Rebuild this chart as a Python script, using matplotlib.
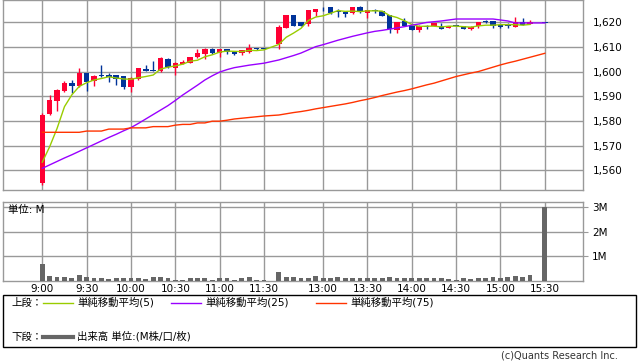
import numpy as np
import matplotlib.pyplot as plt
from matplotlib.patches import Rectangle
from matplotlib.lines import Line2D

nan = np.nan
plt.rcParams['font.family'] = ['DejaVu Sans', 'Noto Sans CJK JP']

# 5-minute bar labels: morning session, lunch gap, afternoon session
morning = [f"{h}:{m:02d}" for h in (9, 10, 11) for m in range(0, 60, 5)][:31]
afternoon = [f"{h}:{m:02d}" for h in (12, 13, 14, 15) for m in range(0, 60, 5)][6:43]
times = morning + [""] + afternoon

opens = [1555.0, 1582.8, 1588.2, 1592.3, 1595.3, 1594.3, 1599.4, 1596.1, 1598.5, 1598.5,
         1598.5, 1598.1, 1593.6, 1597.0, 1601.1, 1600.7, 1600.3, 1605.1, 1601.4, 1603.1,
         1603.5, 1605.8, 1607.0, 1609.2, 1607.7, 1609.2, 1608.1, 1607.4, 1607.8, 1609.3,
         1609.5, nan, 1611.1, 1617.8, 1623.0, 1619.9, 1619.2, 1624.2, 1625.4, 1626.1,
         1624.6, 1624.3, 1623.6, 1626.3, 1623.9, 1624.7, 1624.7, 1623.1, 1616.9, 1620.3,
         1618.5, 1616.9, 1618.6, 1618.6, 1618.6, 1617.8, 1618.6, 1618.4, 1617.3, 1618.6,
         1620.3, 1620.5, 1618.9, 1618.6, 1618.2, 1620.0, 1619.2, nan, 1619.8]
highs = [1583.1, 1590.4, 1593.1, 1596.2, 1596.6, 1601.5, 1599.4, 1598.5, 1602.7, 1599.4,
         1598.5, 1598.2, 1598.0, 1601.6, 1602.7, 1604.3, 1605.8, 1605.5, 1603.7, 1604.7,
         1606.1, 1609.2, 1609.4, 1609.7, 1609.3, 1609.3, 1608.2, 1608.9, 1611.2, 1609.6,
         1609.5, nan, 1618.9, 1623.1, 1623.0, 1620.0, 1625.1, 1625.5, 1626.0, 1626.1,
         1625.3, 1624.4, 1626.1, 1626.5, 1625.0, 1625.3, 1624.7, 1623.1, 1620.1, 1621.6,
         1618.6, 1618.7, 1618.7, 1619.7, 1619.6, 1618.6, 1618.7, 1618.5, 1618.3, 1620.1,
         1620.9, 1620.6, 1619.0, 1619.6, 1622.0, 1621.6, 1620.9, nan, 1619.8]
lows = [1554.0, 1582.6, 1584.2, 1591.9, 1591.5, 1593.6, 1592.3, 1594.3, 1597.8, 1595.9,
        1594.6, 1592.8, 1591.9, 1596.6, 1600.1, 1600.2, 1600.0, 1601.4, 1598.6, 1603.0,
        1603.3, 1605.4, 1605.0, 1607.2, 1605.8, 1607.1, 1606.8, 1606.7, 1607.6, 1608.7,
        1609.3, nan, 1609.3, 1617.5, 1618.3, 1618.4, 1618.5, 1622.6, 1624.6, 1623.4,
        1622.0, 1622.0, 1623.5, 1623.6, 1621.9, 1623.9, 1622.5, 1615.5, 1615.5, 1618.3,
        1616.8, 1616.2, 1617.3, 1618.5, 1617.2, 1617.7, 1618.4, 1617.2, 1616.9, 1617.6,
        1619.6, 1617.8, 1617.6, 1617.6, 1618.2, 1618.9, 1619.2, nan, 1619.7]
closes = [1582.4, 1588.5, 1592.5, 1595.4, 1594.3, 1599.4, 1595.9, 1598.2, 1598.1, 1598.0,
          1596.9, 1593.9, 1597.4, 1601.4, 1600.2, 1600.3, 1605.5, 1601.8, 1603.5, 1604.0,
          1606.1, 1607.4, 1609.2, 1607.4, 1609.2, 1608.1, 1607.0, 1608.8, 1609.7, 1609.1,
          1609.3, nan, 1618.2, 1623.0, 1618.6, 1618.6, 1625.0, 1625.4, 1625.2, 1623.6,
          1624.3, 1623.3, 1626.1, 1624.3, 1624.9, 1624.5, 1622.6, 1617.3, 1620.0, 1618.5,
          1616.9, 1618.6, 1618.2, 1619.6, 1617.3, 1618.5, 1618.5, 1617.3, 1618.2, 1620.0,
          1620.1, 1618.6, 1618.1, 1618.4, 1620.0, 1618.9, 1620.0, nan, 1619.7]

# volume in millions
volume = [0.69, 0.20, 0.15, 0.15, 0.11, 0.24, 0.15, 0.085, 0.11, 0.07,
          0.11, 0.085, 0.085, 0.085, 0.045, 0.15, 0.15, 0.085, 0.03, 0.03,
          0.085, 0.11, 0.085, 0.03, 0.11, 0.085, 0.03, 0.085, 0.155, 0.03,
          0.02, 0, 0.36, 0.155, 0.155, 0.085, 0.11, 0.17, 0.085, 0.085,
          0.155, 0.085, 0.085, 0.11, 0.085, 0.085, 0.085, 0.155, 0.11, 0.085,
          0.085, 0.085, 0.085, 0.085, 0.085, 0.045, 0.03, 0.085, 0.045, 0.11,
          0.085, 0.155, 0.11, 0.155, 0.2, 0.155, 0.24, 0, 3.0]

ma5 = [1563.3, 1569.6, 1577.0, 1585.8, 1590.6, 1594.0, 1595.5, 1596.6, 1597.2, 1597.9,
       1597.4, 1597.0, 1596.9, 1597.5, 1598.0, 1598.6, 1601.0, 1601.8, 1602.3, 1603.0,
       1604.2, 1604.6, 1606.0, 1606.8, 1607.9, 1608.3, 1608.2, 1608.1, 1608.6, 1608.5,
       1608.8, nan, 1611.0, 1613.9, 1615.6, 1617.5, 1620.7, 1622.1, 1622.6, 1623.6,
       1624.7, 1624.4, 1624.5, 1624.3, 1624.6, 1624.6, 1624.5, 1622.7, 1621.9, 1620.6,
       1619.1, 1618.3, 1618.4, 1618.4, 1618.1, 1618.4, 1618.4, 1618.2, 1618.0, 1618.5,
       1618.8, 1618.8, 1619.0, 1619.0, 1619.0, 1618.8, 1619.1, nan, nan]
ma25 = [1560.8, 1562.2, 1563.6, 1565.0, 1566.3, 1567.7, 1569.1, 1570.5, 1571.9, 1573.3,
        1574.6, 1576.0, 1577.3, 1579.0, 1580.8, 1582.6, 1584.4, 1586.2, 1588.3, 1590.5,
        1592.5, 1594.5, 1596.6, 1598.3, 1599.8, 1600.8, 1601.6, 1602.1, 1602.6, 1603.0,
        1603.4, nan, 1604.7, 1605.6, 1606.5, 1607.5, 1608.8, 1610.1, 1610.9, 1611.8,
        1612.7, 1613.5, 1614.3, 1615.0, 1615.7, 1616.3, 1616.7, 1617.2, 1617.7, 1618.2,
        1618.8, 1619.3, 1619.9, 1620.2, 1620.5, 1620.9, 1621.3, 1621.3, 1621.3, 1621.3,
        1621.3, 1621.3, 1620.9, 1620.5, 1619.7, 1619.7, 1619.7, nan, 1619.7]
ma75 = [1575.4, 1575.4, 1575.4, 1575.4, 1575.4, 1575.4, 1575.9, 1575.9, 1575.9, 1576.7,
        1576.7, 1576.7, 1577.2, 1577.2, 1577.2, 1577.7, 1577.7, 1577.7, 1578.3, 1578.6,
        1578.6, 1579.2, 1579.2, 1579.9, 1579.9, 1580.3, 1580.8, 1581.1, 1581.4, 1581.7,
        1582.0, nan, 1582.4, 1582.9, 1583.4, 1583.8, 1584.3, 1584.9, 1585.4, 1585.9,
        1586.4, 1586.9, 1587.5, 1588.2, 1588.8, 1589.5, 1590.3, 1591.0, 1591.7, 1592.3,
        1593.0, 1593.8, 1594.6, 1595.3, 1596.2, 1597.1, 1598.0, 1598.7, 1599.4, 1600.0,
        1600.9, 1601.8, 1602.7, 1603.5, 1604.2, 1605.0, 1605.8, nan, 1607.4]

tick_labels = ["9:00", "9:30", "10:00", "10:30", "11:00", "11:30",
               "13:00", "13:30", "14:00", "14:30", "15:00", "15:30"]
price_ticks = [1560, 1570, 1580, 1590, 1600, 1610, 1620]
vol_ticks = [1, 2, 3]
vol_tick_labels = ["1M", "2M", "3M"]

W, H = 638, 362
grid_c = '#999999'
up_c, down_c = '#ff0033', '#003399'


def fx(px):
    return px / W


def fy(py):
    return 1 - py / H


fig = plt.figure(figsize=(W / 100, H / 100), dpi=100)
ax = fig.add_axes([fx(3.3), fy(190.3), fx(582.7 - 3.3), 190.3 / H])
axv = fig.add_axes([fx(3.3), fy(280.5), fx(582.7 - 3.3), (280.5 - 201.7) / H])

slots = np.arange(len(times))
tick_pos = [times.index(t) for t in tick_labels]

# candlesticks
for i in slots:
    o, h, l, c = opens[i], highs[i], lows[i], closes[i]
    if np.isnan(o):
        continue
    col = up_c if c >= o else down_c
    ax.vlines(i, l, h, color=col, lw=1, zorder=3)
    ax.add_patch(Rectangle((i - 0.37, min(o, c)), 0.74, max(abs(c - o), 0.3),
                           facecolor=col, edgecolor='none', zorder=3))

for ma, col in [(ma5, '#99cc00'), (ma25, '#9900ff'), (ma75, '#ff3300')]:
    arr = np.array(ma)
    m = ~np.isnan(arr)
    ax.plot(slots[m], arr[m], color=col, lw=1, zorder=4)

ax.set_xlim(-5.28, 73.13)
ax.set_ylim(1551.9, 1629.0)
ax.set_xticks(tick_pos)
ax.set_xticklabels([])
ax.set_yticks(price_ticks)
ax.set_yticklabels([f"{v:,}" for v in price_ticks], fontsize=7.5)
ax.yaxis.tick_right()
ax.tick_params(length=0, pad=7.5)
ax.grid(color=grid_c, lw=1)
ax.set_axisbelow(True)

# volume
axv.bar(slots, volume, width=0.65, color='#666666', zorder=3)
axv.set_xlim(-5.28, 73.13)
axv.set_ylim(0, 3.23)
axv.set_xticks(tick_pos)
axv.set_xticklabels(tick_labels, fontsize=7.5)
axv.set_yticks(vol_ticks)
axv.set_yticklabels(vol_tick_labels, fontsize=7.5)
axv.yaxis.tick_right()
axv.tick_params(axis='x', length=0, pad=2.5)
axv.tick_params(axis='y', length=3.3, pad=3.5, color=grid_c)
axv.grid(color=grid_c, lw=1)
axv.set_axisbelow(True)
axv.text(0.008, 0.96, "単位: M", transform=axv.transAxes, fontsize=7.5,
         va='top', ha='left', zorder=5)

for a in (ax, axv):
    for s in a.spines.values():
        s.set_color(grid_c)
        s.set_linewidth(1)

# legend box
fig.add_artist(Rectangle((fx(3.3), fy(347)), fx(636 - 3.3), (347 - 295) / H,
                         transform=fig.transFigure, fill=False, ec='black', lw=1))
row1, row2 = 302.5, 336.5
fig.text(fx(11), fy(row1), "上段：", fontsize=7.5, va='center')
for x0, col, label in [(43, '#99cc00', "単純移動平均(5)"),
                       (171, '#9900ff', "単純移動平均(25)"),
                       (316, '#ff3300', "単純移動平均(75)")]:
    fig.add_artist(Line2D([fx(x0), fx(x0 + 30)], [fy(row1), fy(row1)],
                          transform=fig.transFigure, color=col, lw=1))
    fig.text(fx(x0 + 34), fy(row1), label, fontsize=7.5, va='center')
fig.text(fx(11), fy(row2), "下段：", fontsize=7.5, va='center')
fig.add_artist(Line2D([fx(43), fx(73)], [fy(row2), fy(row2)],
                      transform=fig.transFigure, color='#666666', lw=3))
fig.text(fx(77), fy(row2), "出来高 単位:(M株/口/枚)", fontsize=7.5, va='center')
fig.text(fx(618), fy(356), "(c)Quants Research Inc.", fontsize=7, va='center',
         ha='right', color='#333333')

fig.savefig("out.png", dpi=100)
